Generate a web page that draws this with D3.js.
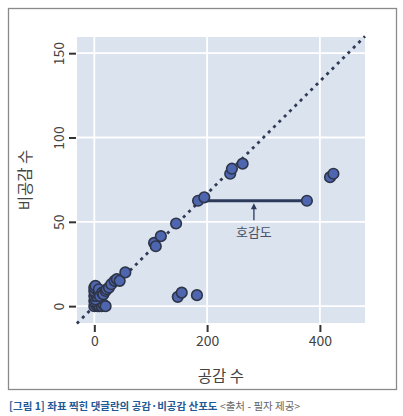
<!DOCTYPE html>
<html><head><meta charset="utf-8">
<script src="https://cdn.jsdelivr.net/npm/d3@7"></script>
<style>
html,body{margin:0;padding:0;background:#fff;}
svg text{font-family:"Noto Sans CJK KR","Noto Sans",sans-serif;}
</style>
</head><body>
<svg id="c" width="403" height="416"></svg>
<script>
// data: [공감 수, 비공감 수]
const likes =    [0,3,6,9,13,16,20,0,2,0,4,1,0,6,0,2,8,10,14,16,20,22,26,30,36,40,45,55,106,109,118,145,184,195,241,244,263,148,155,182,418,424,377];
const dislikes = [0,1,0,0,0,1,0,3,4,6,6,8,9,9,11,12,10,6,8,7,9,10,11,13,15,16,15,20,37.5,35.5,41.5,49,62.5,64.5,78.5,81.5,84.5,5.5,8,6.5,76.5,78.5,62.5];
const xTicks = [0,200,400];
const yTicks = [0,50,100,150];
const refLine = [[-31,-10.3],[480,160]]; // y = x/3
const gapSegment = [[184,62.5],[377,62.5]];
const annot = {x:283, y0:51, y1:61, label:"호감도"};
const xTitle = "공감 수", yTitle = "비공감 수";
const captionMain = "[그림 1] 좌표 찍힌 댓글란의 공감·비공감 산포도", captionSrc = " <출처 - 필자 제공>";

const svg = d3.select("#c");
const L=77,R=365,T=37,B=323;
const x = d3.scaleLinear().domain([-30.7,480]).range([L,R]);
const y = d3.scaleLinear().domain([-10,159.6]).range([B,T]);

svg.append("rect").attr("x",8.5).attr("y",8.5).attr("width",388).attr("height",381)
  .attr("fill","none").attr("stroke","#8a8a8a").attr("stroke-width",1.3);
svg.append("rect").attr("x",L).attr("y",T).attr("width",R-L).attr("height",B-T).attr("fill","#dbe3ef");

const g = svg.append("g");
g.selectAll(".gx").data(xTicks).enter().append("line")
  .attr("x1",d=>x(d)).attr("x2",d=>x(d)).attr("y1",T).attr("y2",B).attr("stroke","#fff").attr("stroke-width",1.8);
g.selectAll(".gy").data(yTicks).enter().append("line")
  .attr("y1",d=>y(d)).attr("y2",d=>y(d)).attr("x1",L).attr("x2",R).attr("stroke","#fff").attr("stroke-width",1.8);

// axes
const xa = svg.append("g").attr("transform",`translate(0,${B+2})`)
  .call(d3.axisBottom(x).tickValues(xTicks).tickSize(7).tickPadding(4));
xa.select(".domain").remove();
xa.selectAll("line").attr("stroke","#333").attr("stroke-width",2);
xa.selectAll("text").attr("font-size",14).attr("fill","#444");

const ya = svg.append("g").attr("transform",`translate(${L-1},0)`)
  .call(d3.axisLeft(y).tickValues(yTicks).tickSize(7).tickPadding(4));
ya.select(".domain").remove();
ya.selectAll("line").attr("stroke","#333").attr("stroke-width",2);
ya.selectAll("text").attr("font-size",14).attr("fill","#444")
  .attr("text-anchor","middle").attr("dy",null)
  .attr("transform",function(){ return "translate(-16,0) rotate(-90)"; })
  .attr("x",0).attr("y",0).attr("dominant-baseline","middle");

// reference dotted line
svg.append("line").attr("x1",x(refLine[0][0])).attr("y1",y(refLine[0][1]))
  .attr("x2",x(refLine[1][0])).attr("y2",y(refLine[1][1]))
  .attr("stroke","#2f3b57").attr("stroke-width",2.8).attr("stroke-dasharray","3,4.5");

// segment
svg.append("line").attr("x1",x(gapSegment[0][0])).attr("y1",y(gapSegment[0][1]))
  .attr("x2",x(gapSegment[1][0])).attr("y2",y(gapSegment[1][1]))
  .attr("stroke","#2b3a5a").attr("stroke-width",3);

// points
const pts = likes.map((d,i)=>[d,dislikes[i]]);
svg.append("g").selectAll("circle").data(pts).enter().append("circle")
  .attr("cx",d=>x(d[0])).attr("cy",d=>y(d[1])).attr("r",5.3)
  .attr("fill","#4e66b0").attr("stroke","#2e3548").attr("stroke-width",1.6);

// arrow annotation
svg.append("line").attr("x1",x(annot.x)).attr("x2",x(annot.x)).attr("y1",y(annot.y0)).attr("y2",y(annot.y1)+3)
  .attr("stroke","#2b3a5a").attr("stroke-width",1.3);
const ax=x(annot.x), ay=y(annot.y1);
svg.append("path").attr("d",`M${ax},${ay} L${ax-3},${ay+6} L${ax+3},${ay+6} Z`).attr("fill","#2b3a5a");
svg.append("text").attr("x",ax).attr("y",y(annot.y0)+17).attr("text-anchor","middle")
  .attr("font-size",13).attr("fill","#4a5066").text(annot.label);

// titles
svg.append("text").attr("x",(L+R)/2).attr("y",382).attr("text-anchor","middle")
  .attr("font-size",15.5).attr("fill","#444").text(xTitle);
svg.append("text").attr("transform",`translate(31,${(T+B)/2}) rotate(-90)`).attr("text-anchor","middle")
  .attr("font-size",15.5).attr("fill","#444").text(yTitle);

// caption
const cap = svg.append("text").attr("x",9).attr("y",410).attr("font-size",10.5);
cap.append("tspan").attr("fill","#1f5a96").attr("font-weight","bold").text(captionMain);
cap.append("tspan").attr("fill","#666").text(captionSrc);
</script>
</body></html>
